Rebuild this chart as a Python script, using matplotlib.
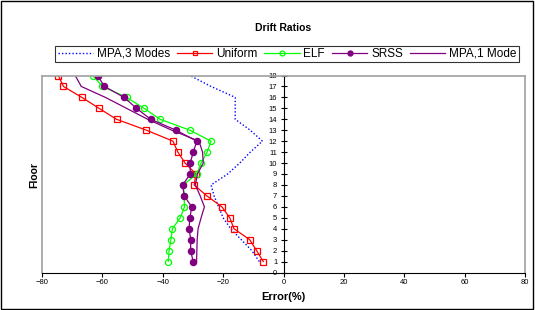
import numpy as np
import matplotlib.pyplot as plt
from matplotlib.patches import Rectangle

plt.rcParams['font.family'] = ['Liberation Sans', 'DejaVu Sans']

floors = np.arange(1, 19)

# error (%) per floor, floor 1 .. 18
mpa3 = [-8, -10.5, -14, -17.5, -20, -21.5, -23, -24, -18.5, -14.5,
        -11, -7, -11, -16, -16, -16, -24, -31]
uniform = [-6.7, -8.9, -11.2, -16.4, -17.8, -20.4, -25.4, -29.6, -29, -32.6,
           -35, -36.6, -45.4, -55.3, -61.1, -66.8, -72.9, -74.6]
elf = [-38.2, -37.9, -37.3, -36.8, -34.2, -32.8, -32.9, -33.2, -28.7, -27.3,
       -25.3, -24, -31, -40.9, -46.2, -52, -60, -63.2]
srss = [-29.9, -30.8, -30.7, -31.3, -31, -30.4, -32.9, -33.4, -30.9, -30.9,
        -29.9, -28.7, -35.6, -44, -48.7, -52.8, -59.3, -61.6]
mpa1 = [-28.8, -28.7, -28.6, -28.3, -27.3, -26.2, -27.6, -29.2, -28.5, -26.6,
        -26.8, -28, -37, -45, -52, -59, -67, -69]

fig = plt.figure(figsize=(5.35, 3.1), dpi=100)
ax = fig.add_axes([42 / 535, 1 - 272.5 / 310, 483 / 535, 197 / 310])

ax.plot(mpa3, floors, color='#0000ff', lw=1, linestyle=(0, (1, 1.5)), label='MPA,3 Modes')
ax.plot(uniform, floors, color='#ff0000', lw=0.9, marker='s', ms=4.2,
        mfc='none', mec='#ff0000', mew=0.9, label='Uniform')
ax.plot(elf, floors, color='#00ff00', lw=0.9, marker='o', ms=4.4,
        mfc='none', mec='#00ff00', mew=0.9, label='ELF')
ax.plot(srss, floors, color='#800080', lw=0.9, marker='o', ms=4.4,
        mfc='#800080', mec='#800080', label='SRSS')
ax.plot(mpa1, floors, color='#800080', lw=0.9, label='MPA,1 Mode')

ax.set_xlim(-80, 80)
ax.set_ylim(0, 18)
ax.set_xticks(np.arange(-80, 81, 20))
ax.set_yticks(np.arange(0, 19, 1))
ax.tick_params(axis='both', labelsize=5.5, length=3, width=0.8, pad=2)
ax.tick_params(axis='y', direction='inout', length=5)

# floor axis sits at zero error
ax.spines['left'].set_position(('data', 0))
ax.spines['left'].set_color('black')
ax.spines['bottom'].set_color('black')
for s in ['top', 'right']:
    ax.spines[s].set_color('#a0a0a0')
    ax.spines[s].set_linewidth(1.2)
ax.plot([0, 0], [0, 1], transform=ax.transAxes, color='#a0a0a0', lw=1.2,
        clip_on=False)

ax.set_xlabel('Error(%)', fontsize=8, fontweight='bold', labelpad=4)
fig.text(34 / 535, 1 - 175 / 310, 'Floor', rotation=90, fontsize=7.5,
         fontweight='bold', ha='center', va='center')
fig.text(283 / 535, 1 - 28 / 310, 'Drift Ratios', fontsize=7.5,
         fontweight='bold', ha='center', va='center')

leg = fig.legend(*ax.get_legend_handles_labels(), loc='center', ncol=5,
                 bbox_to_anchor=(287 / 535, 1 - 54 / 310), fontsize=8.5,
                 frameon=True, fancybox=False, edgecolor='black',
                 handlelength=3.0, handletextpad=0.3, columnspacing=0.6,
                 borderpad=0.2, markerscale=0.8)
leg.get_frame().set_linewidth(0.8)

fig.patches.append(Rectangle((0.002, 0.003), 0.995, 0.994, transform=fig.transFigure,
                             fill=False, edgecolor='black', lw=1))

fig.savefig('out.png', dpi=100)
